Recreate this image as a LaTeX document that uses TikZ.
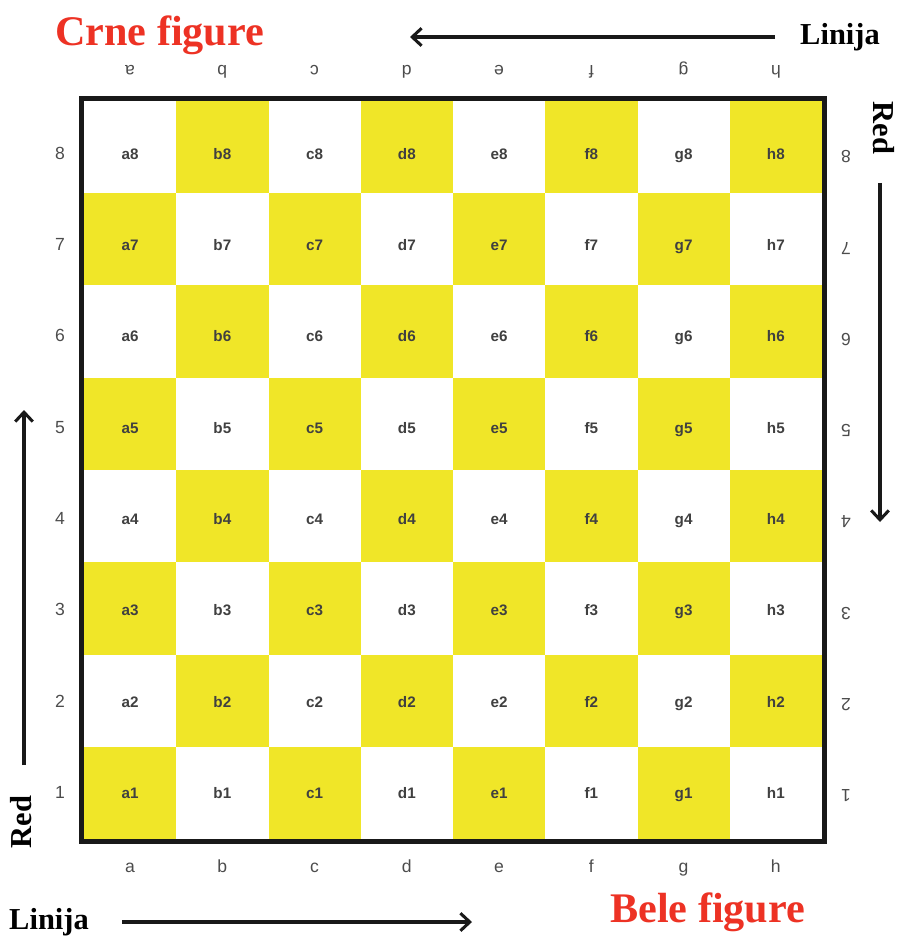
\documentclass[tikz,border=0pt]{standalone}
\usepackage{fontspec}
\setmainfont{Liberation Serif}
\setsansfont{Liberation Sans}
\usetikzlibrary{arrows.meta}
\definecolor{boardyellow}{RGB}{240,230,40}
\definecolor{titlered}{RGB}{237,50,36}

\begin{document}
\begin{tikzpicture}[
  x=0.03cm, y=-0.03cm,
  >={Straight Barb[length=8pt,width=15pt]},
  dirarrow/.style={->,line width=2.6pt,black!90},
  title/.style={font=\fontsize{36}{40}\selectfont\bfseries,text=titlered,inner sep=0pt},
  axislabel/.style={font=\fontsize{26}{30}\selectfont\bfseries,inner sep=0pt},
  cell/.style={font=\sffamily\bfseries\fontsize{13}{15}\selectfont,text=black!75,
    inner sep=0pt,text height=0.72em,text depth=0pt},
  edge/.style={font=\sffamily\fontsize{15}{17}\selectfont,text=black!70,
    inner sep=0pt,text height=0.72em,text depth=0pt}
]
  \useasboundingbox (0,0) rectangle (898,937);

  % squares and their names
  \foreach \f [count=\i from 0] in {a,b,c,d,e,f,g,h} {
    \foreach \r in {1,...,8} {
      \pgfmathsetmacro{\sx}{84+\i*92.25}
      \pgfmathsetmacro{\sy}{101+(8-\r)*92.25}
      \pgfmathsetmacro{\ly}{155+(8-\r)*91.3}
      \pgfmathtruncatemacro{\dark}{mod(\i+\r,2)}
      \ifnum\dark=1 \def\sqfill{boardyellow}\else\def\sqfill{white}\fi
      \fill[\sqfill] (\sx,\sy) rectangle ++(92.25,92.25);
      \node[cell] (sq-\f\r) at (\sx+46.1,\ly) {\f\r};
    }
  }
  \draw[line width=4.2pt,black!90] (81.5,98.5) rectangle (824.5,841.5);

  % file and rank labels round the board
  \foreach \f [count=\i from 0] in {a,b,c,d,e,f,g,h} {
    \pgfmathsetmacro{\cx}{84+\i*92.25+46.1}
    \node[edge] (bot-\f) at (\cx,868) {\f};
    \node[edge,rotate=180] (top-\f) at (\cx,70) {\f};
  }
  \foreach \r in {1,...,8} {
    \pgfmathsetmacro{\cy}{155+(8-\r)*91.3}
    \node[edge] (left-\r) at (60,\cy) {\r};
    \node[edge,rotate=180] (right-\r) at (846,\cy) {\r};
  }

  % titles
  \node[title,anchor=base west] (black) at (55,46) {Crne figure};
  \node[title,anchor=base west] (white) at (610,922) {Bele figure};

  % direction of files and ranks
  \node[axislabel,anchor=base west] (linetop) at (800,45) {Linija};
  \node[axislabel,anchor=base west] (linebot) at (9,929) {Linija};
  \node[axislabel,rotate=-90] (redright) at (884,128) {Red};
  \node[axislabel,rotate=90] (redleft) at (21,822) {Red};

  \coordinate (topstart) at (775,37);
  \coordinate (topend) at (410,37);
  \coordinate (botstart) at (122,922);
  \coordinate (botend) at (472,922);
  \coordinate (rightstart) at (880,183);
  \coordinate (rightend) at (880,522);
  \coordinate (leftstart) at (24,765);
  \coordinate (leftend) at (24,410);

  \draw[dirarrow] (topstart) -- (topend);
  \draw[dirarrow] (botstart) -- (botend);
  \draw[dirarrow] (rightstart) -- (rightend);
  \draw[dirarrow] (leftstart) -- (leftend);
\end{tikzpicture}
\end{document}
